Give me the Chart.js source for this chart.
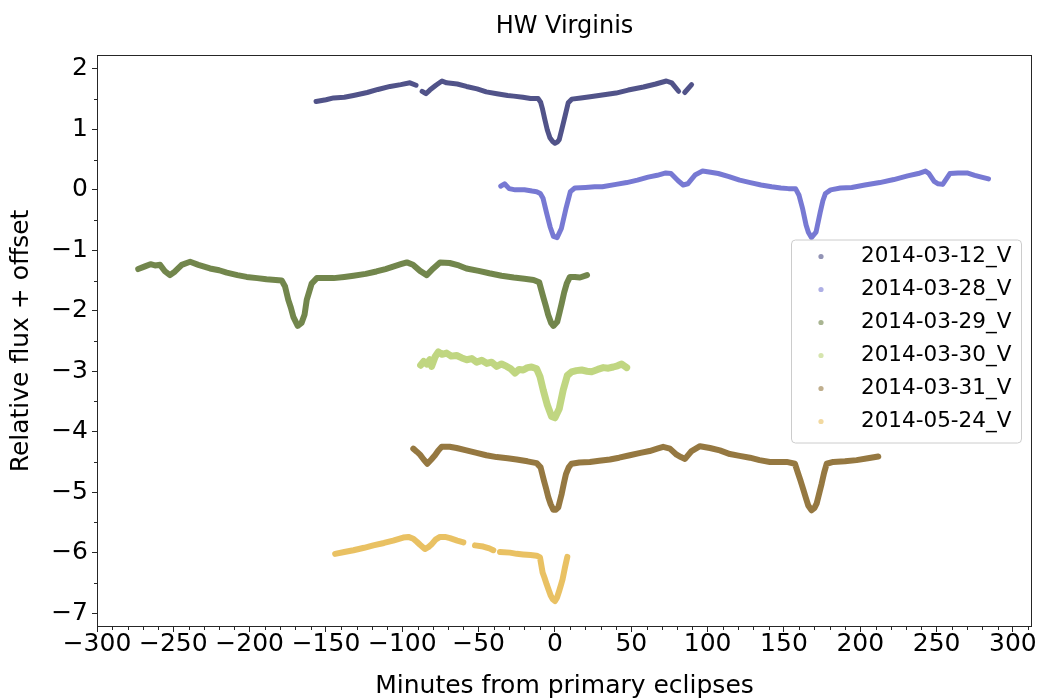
<!DOCTYPE html>
<html>
<head>
<meta charset="utf-8">
<title>HW Virginis</title>
<script src="https://cdn.jsdelivr.net/npm/chart.js@4/dist/chart.umd.min.js"></script>
<style>
  html, body { margin: 0; padding: 0; background: #fff; }
  #wrap { width: 1037px; height: 699px; }
</style>
</head>
<body>
<div id="wrap"><canvas id="chart" width="1037" height="699"></canvas></div>
<script>
// Light curves of HW Vir, minutes from primary eclipse vs relative flux + offset
const seriesLabels = ['2014-03-12_V', '2014-03-28_V', '2014-03-29_V', '2014-03-30_V', '2014-03-31_V', '2014-05-24_V'];

const min0312 = [-156.5, -150, -145, -138, -132, -123, -116, -108, -101, -95, -91, -89, -87, -84.5, -82, -78, -74, -71, -64, -58, -51, -45, -38, -31, -27, -21, -16, -11, -9.4, -8.1, -6.6, -5, -3.3, -1.5, 0, 1.5, 2.8, 4.4, 6.6, 8.7, 11, 17, 23, 31, 40, 48, 58, 66, 73, 76.5, 81, 83, 85, 89.5];
const flux0312 = [1.46, 1.49, 1.52, 1.53, 1.56, 1.61, 1.66, 1.71, 1.74, 1.77, 1.73, null, 1.63, 1.59, 1.65, 1.73, 1.80, 1.77, 1.75, 1.71, 1.67, 1.62, 1.59, 1.56, 1.55, 1.53, 1.51, 1.51, 1.45, 1.33, 1.16, 0.99, 0.86, 0.80, 0.77, 0.79, 0.83, 0.99, 1.22, 1.44, 1.50, 1.52, 1.54, 1.57, 1.60, 1.65, 1.70, 1.75, 1.80, 1.77, 1.63, null, 1.61, 1.74];

const min0328 = [-35.5, -33, -30, -26, -20, -15, -12, -9.6, -7.8, -5.5, -3.2, -1, 1.4, 4.2, 7.1, 10.1, 13, 20, 26, 31, 40, 47, 54, 61, 67, 72.6, 76, 80.7, 84, 87, 89, 92, 96.7, 102, 107, 114, 121, 128, 135, 142, 148, 153, 157.6, 159.9, 162.3, 164.5, 166, 168, 171, 173.7, 175.5, 177.2, 180.6, 187, 194.4, 203, 212.8, 222, 231, 238, 242.7, 245, 248.4, 251, 254, 258.7, 264, 270, 275, 279.4, 284];
const flux0328 = [0.06, 0.10, 0.02, 0.00, 0.00, -0.02, -0.03, -0.06, -0.14, -0.38, -0.61, -0.77, -0.79, -0.64, -0.32, -0.03, 0.03, 0.04, 0.05, 0.05, 0.09, 0.12, 0.16, 0.21, 0.24, 0.28, 0.27, 0.15, 0.08, 0.10, 0.16, 0.25, 0.31, 0.29, 0.27, 0.22, 0.16, 0.12, 0.08, 0.05, 0.03, 0.02, 0.02, -0.09, -0.32, -0.58, -0.70, -0.79, -0.70, -0.38, -0.18, -0.06, 0.00, 0.03, 0.04, 0.08, 0.12, 0.17, 0.23, 0.27, 0.31, 0.27, 0.14, 0.10, 0.09, 0.27, 0.28, 0.28, 0.24, 0.21, 0.18];

const min0329 = [-273, -269, -265, -262, -258.7, -255.4, -252.2, -248.9, -244.5, -239, -233.6, -226, -220, -215, -208, -202, -195, -189, -183, -179, -176.8, -174.7, -173, -171.4, -168.5, -166, -164, -162.6, -159.4, -156, -150, -145, -138, -132, -124, -117, -111, -106, -101, -97, -93, -88.4, -84, -79.7, -75.3, -69, -63, -58, -50, -43, -35, -27, -20, -14, -10.3, -7.7, -6, -4.4, -2.5, -1, 1.5, 3, 4.4, 6, 7.7, 9.8, 13, 16.4, 21];
const flux0329 = [-1.31, -1.27, -1.23, -1.25, -1.24, -1.35, -1.41, -1.35, -1.24, -1.19, -1.24, -1.30, -1.33, -1.37, -1.41, -1.44, -1.46, -1.48, -1.49, -1.50, -1.60, -1.82, -1.95, -2.10, -2.25, -2.20, -2.06, -1.82, -1.55, -1.46, -1.46, -1.46, -1.44, -1.42, -1.39, -1.35, -1.31, -1.27, -1.23, -1.20, -1.24, -1.34, -1.41, -1.30, -1.20, -1.21, -1.25, -1.30, -1.34, -1.38, -1.42, -1.45, -1.47, -1.49, -1.53, -1.77, -1.92, -2.07, -2.20, -2.25, -2.18, -2.03, -1.88, -1.70, -1.55, -1.44, -1.44, -1.45, -1.41];

const min0330 = [-88, -86, -84, -82, -80.8, -78.5, -76.4, -74, -71, -68, -64.4, -61, -57.8, -54.5, -51.3, -48, -44.7, -41.5, -38.2, -35, -31.6, -29, -26.2, -23.5, -20.8, -18, -15.3, -12, -9.8, -7.7, -5, -2.2, 0, 2.8, 5.4, 8.1, 10.9, 14, 17.5, 21, 24, 28, 31.7, 35, 38.2, 41, 43.7, 47];
const flux0330 = [-2.90, -2.84, -2.88, -2.81, -2.92, -2.76, -2.68, -2.72, -2.70, -2.75, -2.74, -2.78, -2.81, -2.79, -2.85, -2.82, -2.87, -2.85, -2.92, -2.88, -2.92, -2.96, -3.03, -2.97, -2.98, -2.94, -2.93, -2.96, -3.09, -3.31, -3.56, -3.75, -3.77, -3.62, -3.31, -3.07, -3.01, -2.99, -2.98, -3.00, -3.01, -2.97, -2.94, -2.95, -2.93, -2.91, -2.88, -2.94];

const min0331 = [-92.8, -90.5, -88.4, -86, -83.6, -81, -78.6, -76.4, -74.2, -69, -64.4, -58, -51.3, -45, -38.2, -31, -25.1, -18, -12, -9.4, -7.2, -5.8, -4.4, -2.8, -1.1, 0.6, 2.2, 3.3, 4.4, 5.8, 7.2, 9, 10.9, 16, 22.9, 29, 36, 42, 49, 56, 62, 67, 70.9, 75.3, 79.7, 82.5, 85.2, 87.5, 89.5, 95, 101.5, 108, 114.6, 121, 127.7, 134, 140.8, 146, 151.8, 157.2, 159.4, 161, 162.6, 164.3, 165.9, 168.1, 170, 171.4, 173, 174.7, 176.3, 178, 182.3, 190, 197.6, 205, 211.8];
const flux0331 = [-4.28, -4.33, -4.38, -4.46, -4.53, -4.46, -4.39, -4.31, -4.25, -4.25, -4.27, -4.31, -4.35, -4.39, -4.42, -4.44, -4.46, -4.49, -4.52, -4.59, -4.81, -4.94, -5.08, -5.20, -5.29, -5.29, -5.25, -5.14, -5.03, -4.86, -4.70, -4.59, -4.53, -4.51, -4.50, -4.48, -4.46, -4.43, -4.39, -4.35, -4.32, -4.28, -4.25, -4.28, -4.38, -4.42, -4.45, -4.38, -4.32, -4.24, -4.27, -4.31, -4.37, -4.40, -4.43, -4.47, -4.50, -4.50, -4.50, -4.53, -4.70, -4.82, -4.95, -5.09, -5.22, -5.30, -5.26, -5.19, -5.03, -4.86, -4.68, -4.53, -4.50, -4.49, -4.47, -4.44, -4.41];

const min0524 = [-144, -138, -132, -125, -119, -112, -106, -99.4, -96, -92.8, -90.5, -88.4, -85.2, -83, -80.8, -78, -75.3, -72, -68.8, -64, -60, -56, -52.4, -47, -43, -40.4, -38, -36, -29.5, -25, -20.8, -16, -12, -9.8, -8.1, -6.8, -5.5, -4.1, -2.8, -1.4, 0, 1.4, 2.8, 4, 5, 6.6, 8.1];
const flux0524 = [-6.02, -5.99, -5.96, -5.92, -5.88, -5.84, -5.80, -5.75, -5.74, -5.77, -5.82, -5.87, -5.94, -5.91, -5.86, -5.78, -5.74, -5.74, -5.76, -5.80, -5.83, null, -5.88, -5.90, -5.93, -5.96, null, -5.99, -6.00, -6.02, -6.03, -6.04, -6.05, -6.08, -6.33, -6.42, -6.52, -6.62, -6.71, -6.77, -6.80, -6.74, -6.63, -6.53, -6.44, -6.24, -6.07];

const seriesMinutes = [min0312, min0328, min0329, min0330, min0331, min0524];
const seriesFlux = [flux0312, flux0328, flux0329, flux0330, flux0331, flux0524];

// tab20b colours, as matplotlib picked them
const seriesColors = ['57,59,121', '107,110,207', '99,121,57', '181,207,107', '140,109,49', '231,186,82'];
const lineAlpha = [0.88, 0.92, 0.9, 0.85, 0.92, 0.9];
const lineWidths = [5, 5, 6, 7, 6, 6];

const FONT = '"DejaVu Sans", sans-serif';

const isMajor = (v, step) => Math.abs(v / step - Math.round(v / step)) < 1e-6;
const fmtTick = (v) => (v < 0 ? '\u2212' + Math.abs(v) : String(v));

const datasets = seriesLabels.map((label, i) => ({
    label,
    data: seriesMinutes[i].map((x, j) => ({ x, y: seriesFlux[i][j] })),
    showLine: true,
    spanGaps: false,
    borderColor: `rgba(${seriesColors[i]},${lineAlpha[i]})`,
    borderWidth: lineWidths[i],
    borderJoinStyle: 'round',
    borderCapStyle: 'round',
    pointRadius: 0,
    legendColor: `rgba(${seriesColors[i]},0.55)`,
}));

const framePlugin = {
    id: 'frame',
    afterDraw(chart) {
        const { ctx, chartArea: a, scales } = chart;
        ctx.save();

        // spines
        ctx.strokeStyle = '#262626';
        ctx.lineWidth = 1;
        ctx.strokeRect(Math.round(a.left) + 0.5, Math.round(a.top) + 0.5, Math.round(a.right - a.left) - 1, Math.round(a.bottom - a.top) - 1);

        // minor ticks
        ctx.beginPath();
        for (let v = -300; v <= 310; v += 10) {
            if (isMajor(v, 50)) continue;
            const px = Math.round(scales.x.getPixelForValue(v)) + 0.5;
            ctx.moveTo(px, a.bottom);
            ctx.lineTo(px, a.bottom + 3);
        }
        for (let v = -7; v <= 2; v += 0.5) {
            if (isMajor(v, 1)) continue;
            const py = Math.round(scales.y.getPixelForValue(v)) + 0.5;
            ctx.moveTo(a.left - 3, py);
            ctx.lineTo(a.left, py);
        }
        ctx.stroke();

        // title, centred over the plot area
        ctx.fillStyle = '#000';
        ctx.font = '24px ' + FONT;
        ctx.textAlign = 'center';
        ctx.textBaseline = 'middle';
        ctx.fillText('HW Virginis', (a.left + a.right) / 2, 27);

        // legend, centre right
        const w = 230, h = 203;
        const lx = a.right - 11 - w;
        const ly = (a.top + a.bottom) / 2 - h / 2;
        ctx.beginPath();
        ctx.roundRect(lx + 0.5, ly + 0.5, w, h, 4);
        ctx.fillStyle = 'rgba(255,255,255,0.8)';
        ctx.fill();
        ctx.strokeStyle = '#cccccc';
        ctx.stroke();

        ctx.font = '21.5px ' + FONT;
        ctx.textAlign = 'left';
        chart.data.datasets.forEach((ds, i) => {
            const ry = ly + 17 + i * 33;
            ctx.beginPath();
            ctx.arc(lx + 30, ry, 2.6, 0, Math.PI * 2);
            ctx.fillStyle = ds.legendColor;
            ctx.fill();
            ctx.fillStyle = '#000';
            ctx.fillText(ds.label, lx + 70, ry);
        });

        ctx.restore();
    },
};

new Chart(document.getElementById('chart'), {
    type: 'scatter',
    data: { datasets },
    options: {
        responsive: false,
        animation: false,
        devicePixelRatio: 1,
        events: [],
        layout: { padding: { top: 55, left: 0, right: 5, bottom: 0 } },
        plugins: {
            legend: { display: false },
            tooltip: { enabled: false },
            title: { display: false },
        },
        scales: {
            x: {
                type: 'linear',
                min: -300,
                max: 312.5,
                afterFit(scale) { scale.height = 72; },
                border: { display: false },
                grid: {
                    drawOnChartArea: false,
                    tickLength: 5,
                    tickWidth: 1,
                    tickColor: (c) => (isMajor(c.tick.value, 50) ? '#262626' : 'rgba(0,0,0,0)'),
                },
                ticks: {
                    stepSize: 10,
                    autoSkip: false,
                    includeBounds: false,
                    maxRotation: 0,
                    color: '#000',
                    padding: 0,
                    font: { family: FONT, size: 25, lineHeight: 1 },
                    callback: (v) => (isMajor(v, 50) ? fmtTick(v) : ''),
                },
                title: {
                    display: true,
                    text: 'Minutes from primary eclipses',
                    color: '#000',
                    font: { family: FONT, size: 25, lineHeight: 1 },
                    padding: { top: 0, bottom: 0 },
                },
            },
            y: {
                type: 'linear',
                min: -7.23,
                max: 2.23,
                afterFit(scale) { scale.width = 97; },
                border: { display: false },
                grid: {
                    drawOnChartArea: false,
                    tickLength: 5,
                    tickWidth: 1,
                    tickColor: (c) => (isMajor(c.tick.value, 1) ? '#262626' : 'rgba(0,0,0,0)'),
                },
                ticks: {
                    stepSize: 0.5,
                    autoSkip: false,
                    includeBounds: false,
                    color: '#000',
                    padding: 4,
                    font: { family: FONT, size: 25, lineHeight: 1 },
                    callback: (v) => (isMajor(v, 1) ? fmtTick(Math.round(v)) : ''),
                },
                title: {
                    display: true,
                    text: 'Relative flux + offset',
                    color: '#000',
                    font: { family: FONT, size: 25, lineHeight: 1 },
                    padding: { top: 9, bottom: 0 },
                },
            },
        },
    },
    plugins: [framePlugin],
});
</script>
</body>
</html>
